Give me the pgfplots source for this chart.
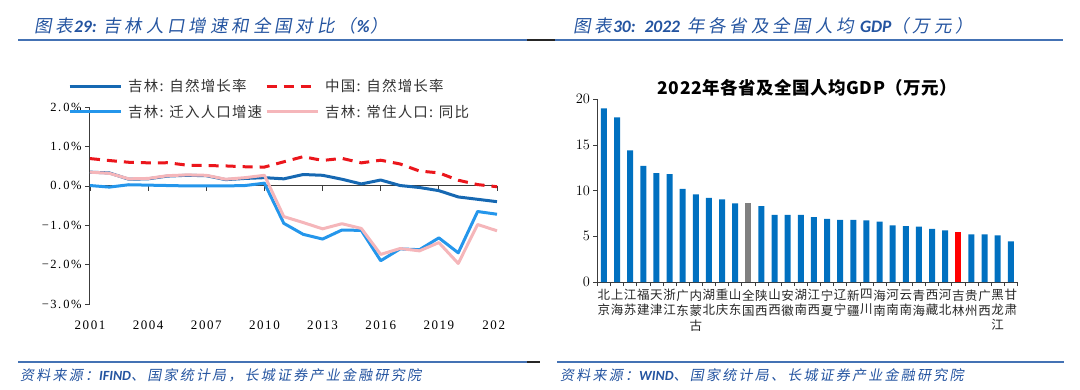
\documentclass[border=0pt]{standalone}
\usepackage{fontspec}
\usepackage{pgfplots}
\usepackage{pgfplotstable}
\pgfplotsset{compat=1.18}
\setmainfont{Liberation Serif}
\newfontfamily\cjk{Noto Sans CJK SC}
\newfontfamily\cjkt{Noto Sans CJK SC}[LetterSpace=3]
\newfontfamily\cjkleg{Noto Sans CJK SC}[LetterSpace=8]
\newfontfamily\cjkit{Noto Sans CJK SC}[FakeSlant=0.18,LetterSpace=22]
\newfontfamily\cjkfoot{Noto Sans CJK SC}[FakeSlant=0.18,LetterSpace=16]
\newfontfamily\carl{Carlito}
\newfontfamily\tickf{Liberation Serif}[LetterSpace=12]
\definecolor{hdrblue}{RGB}{36,84,160}
\definecolor{lineblue}{RGB}{68,114,180}
\definecolor{jlnat}{RGB}{22,104,178}
\definecolor{cnred}{RGB}{235,22,28}
\definecolor{jlmig}{RGB}{36,150,235}
\definecolor{jlpop}{RGB}{245,182,186}
\definecolor{barblue}{RGB}{0,112,192}
\definecolor{bargray}{RGB}{128,128,128}
\definecolor{axgray}{RGB}{60,60,60}
\pgfplotstableread{
yr nat cn mig pop
2001 0.35 0.695 0.01 0.35
2002 0.33 0.645 -0.03 0.32
2003 0.17 0.601 0.03 0.18
2004 0.18 0.587 0.02 0.19
2005 0.25 0.589 0.01 0.26
2006 0.27 0.528 0.00 0.28
2007 0.26 0.517 0.00 0.27
2008 0.16 0.508 0.00 0.17
2009 0.19 0.487 0.01 0.21
2010 0.21 0.479 0.07 0.27
2011 0.18 0.613 -0.95 -0.78
2012 0.29 0.743 -1.23 -0.93
2013 0.27 0.647 -1.35 -1.09
2014 0.17 0.700 -1.12 -0.96
2015 0.05 0.586 -1.13 -1.08
2016 0.15 0.653 -1.90 -1.74
2017 0.01 0.558 -1.60 -1.59
2018 -0.04 0.378 -1.62 -1.65
2019 -0.12 0.332 -1.32 -1.44
2020 -0.28 0.145 -1.70 -1.97
2021 -0.34 0.034 -0.65 -0.98
2022 -0.40 -0.020 -0.72 -1.14
}\lefttab
\begin{document}
\begin{tikzpicture}[x=1pt,y=1pt]
\useasboundingbox (0pt,0pt) rectangle (1080pt,389pt);
% headers
\node[anchor=west,inner sep=0pt,text=hdrblue] at (34pt,363pt) {\cjkit\fontsize{17.5}{20}\selectfont 图表\hspace{1pt}{\carl\bfseries\itshape 29:}\hspace{7pt}吉林人口增速和全国对比（\hspace{1pt}{\carl\bfseries\itshape \%}\hspace{1pt}）};
\node[anchor=west,inner sep=0pt,text=hdrblue] at (573pt,363pt) {\cjkit\fontsize{17.5}{20}\selectfont 图表\hspace{1pt}{\carl\bfseries\itshape 30:}\hspace{9pt}{\carl\bfseries\itshape 2022}\hspace{7pt}年各省及全国人均\hspace{6pt}{\carl\bfseries\itshape GDP}（万元）};
\draw[lineblue,line width=1.5pt] (18pt,349pt) -- (527pt,349pt);
\draw[black!85,line width=1.5pt] (527pt,349pt) -- (555pt,349pt);
\draw[lineblue,line width=1.5pt] (555pt,349pt) -- (1063pt,349pt);
% footers
\draw[lineblue,line width=1.5pt] (18pt,27pt) -- (527pt,27pt);
\draw[black!85,line width=1.5pt] (527pt,27pt) -- (540pt,27pt);
\draw[lineblue,line width=1.5pt] (557pt,27pt) -- (1064pt,27pt);
\node[anchor=west,inner sep=0pt,text=hdrblue] at (20pt,14pt) {\cjkfoot\fontsize{14}{16}\selectfont 资料来源：{\carl\bfseries\itshape IFIND}、国家统计局，长城证券产业金融研究院};
\node[anchor=west,inner sep=0pt,text=hdrblue] at (560pt,14pt) {\cjkfoot\fontsize{14}{16}\selectfont 资料来源：{\carl\bfseries\itshape WIND}、国家统计局、长城证券产业金融研究院};
% right title
\node[font=\cjkt\bfseries\fontsize{17.5}{20}\selectfont] at (807.5pt,301pt) {2022年各省及全国人均GDP（万元）};
% left chart
\begin{axis}[at={(90pt,85pt)},anchor=south west,scale only axis,width=407pt,height=196.8pt,
  xmin=2001,xmax=2022,ymin=-3,ymax=2,
  axis x line=middle,axis y line=left,axis line style={axgray,line width=1pt,-},
  hide obscured x ticks=false,hide obscured y ticks=false,
  xtick={2001,2004,...,2022},xticklabels={2001,2004,2007,2010,2013,2016,2019,202\phantom{2}},
  ytick={-3,-2,...,2},yticklabels={−3.\,0\%,−2.\,0\%,−1.\,0\%,0.\,0\%,1.\,0\%,2.\,0\%},
  tick align=outside,major tick length=5pt,tick style={axgray,line width=0.8pt},
  xticklabel style={font=\tickf\fontsize{13}{15}\selectfont,anchor=center,yshift=-134pt},
  yticklabel style={font=\tickf\fontsize{12.5}{15}\selectfont},
  clip=false,
  legend columns=2,legend cell align=left,
  legend style={draw=none,fill=none,at={(-0.054,1.143)},anchor=north west,inner sep=0pt,
    column sep=6pt,row sep=12pt,font=\cjkleg\fontsize{14.5}{16}\selectfont,text=black!80,
    nodes={inner sep=0pt}},
  legend image code/.code={\draw[#1] (0pt,0pt) -- (51pt,0pt);},
  every axis plot/.append style={line width=3pt,line join=round}]
\addplot[jlnat] table[x=yr,y=nat]{\lefttab};
\addlegendentry{\makebox[131pt][l]{吉林: 自然增长率}}
\addplot[cnred,dash pattern=on 10pt off 7pt] table[x=yr,y=cn]{\lefttab};
\addlegendentry{中国: 自然增长率}
\addplot[jlmig] table[x=yr,y=mig]{\lefttab};
\addlegendentry{\makebox[131pt][l]{吉林: 迁入人口增速}}
\addplot[jlpop] table[x=yr,y=pop]{\lefttab};
\addlegendentry{吉林: 常住人口: 同比}
\end{axis}
% right chart
\begin{axis}[at={(597.4pt,107pt)},anchor=south west,scale only axis,width=420pt,height=182.8pt,
  xmin=-0.5,xmax=31.5,ymin=0,ymax=20,
  axis x line=bottom,axis y line=left,axis line style={axgray,line width=0.8pt,-},
  ybar,bar width=6pt,
  xtick={-0.5,0.5,...,31.5},x tick label as interval,
  xticklabels={{北\\京},{上\\海},{江\\苏},{福\\建},{天\\津},{浙\\江},{广\\东},{内\\蒙\\古},{湖\\北},{重\\庆},{山\\东},{全\\国},{陕\\西},{山\\西},{安\\徽},{湖\\南},{江\\西},{宁\\夏},{辽\\宁},{新\\疆},{四\\川},{海\\南},{河\\南},{云\\南},{青\\海},{西\\藏},{河\\北},{吉\\林},{贵\\州},{广\\西},{黑\\龙\\江},{甘\\肃}},
  ytick={0,5,...,20},
  tick align=outside,major tick length=4pt,tick style={axgray,line width=0.8pt},
  xticklabel style={font=\cjk\fontsize{12.5}{15}\selectfont,align=center,anchor=north,text=black!85},
  yticklabel style={font=\fontsize{14}{16}\selectfont}]
\addplot[fill=barblue,draw=none,bar shift=0pt] coordinates {(0,19.0) (1,18.0) (2,14.4) (3,12.7) (4,11.9) (5,11.8) (6,10.2) (7,9.6) (8,9.2) (9,9.05) (10,8.6) (12,8.3) (13,7.35) (14,7.35) (15,7.35) (16,7.1) (17,6.9) (18,6.8) (19,6.8) (20,6.75) (21,6.6) (22,6.2) (23,6.1) (24,6.05) (25,5.8) (26,5.65) (28,5.2) (29,5.2) (30,5.1) (31,4.45)};
\addplot[fill=bargray,draw=none,bar shift=0pt] coordinates {(11,8.6)};
\addplot[fill=red,draw=none,bar shift=0pt] coordinates {(27,5.5)};
\end{axis}
\end{tikzpicture}
\end{document}
